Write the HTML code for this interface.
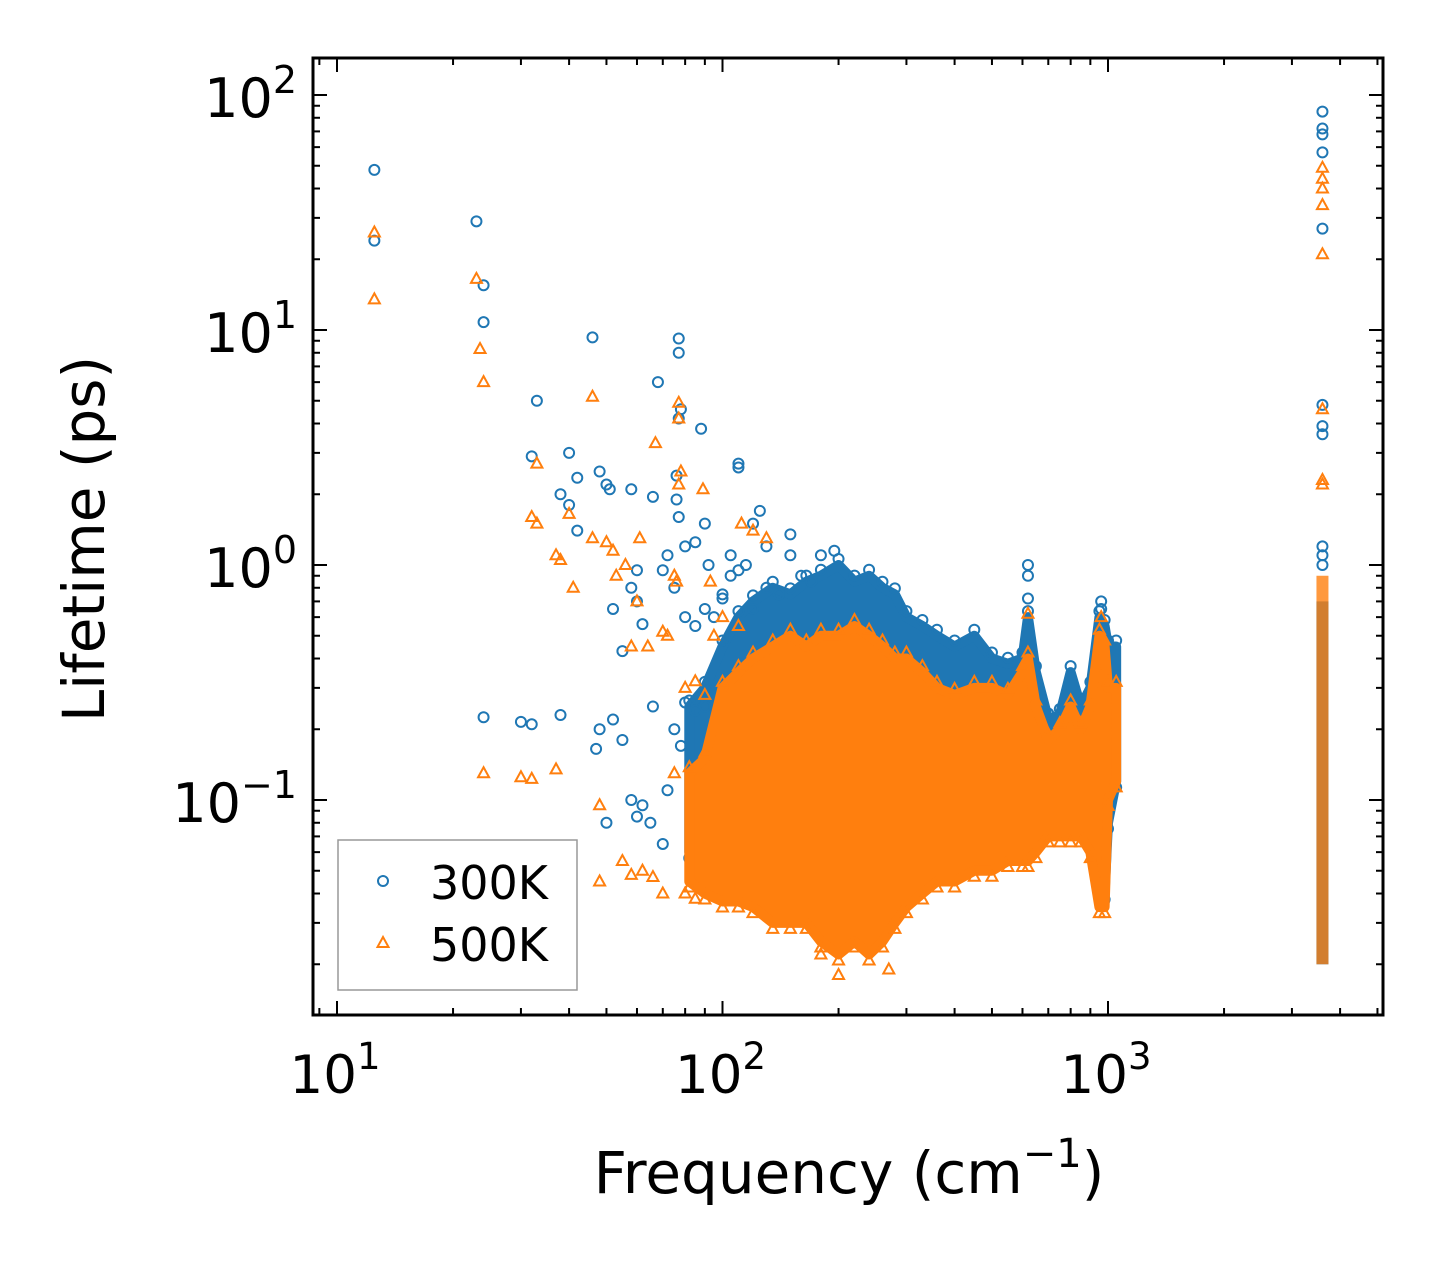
<!DOCTYPE html>
<html><head><meta charset="utf-8">
<style>
html,body{margin:0;padding:0;background:#fff;}
svg{display:block;font-family:"DejaVu Sans","Liberation Sans",sans-serif;}
</style></head>
<body>
<svg id="chart" width="1442" height="1265" viewBox="0 0 1442 1265" xmlns="http://www.w3.org/2000/svg" style="position:absolute;left:0;top:0">
<rect width="1442" height="1265" fill="#fff"/>
<g id="cloud"></g>
<g id="marks"></g>
<g id="axes"></g>
</svg>
<script>
// ---- data ----
const blueFreq = [12.5,12.5,23,24,24,24,30,32,33,32,38,40,40,38,42,42,46,48,50,51,52,55,58,58,60,60,62,66,66,68,70,72,75,77,77,77,78,76,76,77,80,85,88,90,92,100,105,110,110,115,120,125,130,150,150,180,195,620,620,620,960,960,50,48,47,52,55,58,60,62,65,70,72,3600,3600,3600,3600,3600,3600,3600,3600,3600,3600,3600,80,85,90,95,100,105,110,120,130,140,160,170,80,85,90,75,78];
const blueLife = [48,24,29,15.5,10.8,0.225,0.215,0.21,5,2.9,0.23,3,1.8,2,1.4,2.35,9.3,2.5,2.2,2.1,0.65,0.43,2.1,0.8,0.95,0.7,0.56,1.95,0.25,6,0.95,1.1,0.8,9.2,8,4.2,4.6,2.4,1.9,1.6,1.2,1.25,3.8,1.5,1.0,0.75,1.1,2.7,2.6,1.0,1.5,1.7,1.2,1.35,1.1,1.1,1.15,1.0,0.9,0.72,0.7,0.65,0.08,0.2,0.165,0.22,0.18,0.1,0.085,0.095,0.08,0.065,0.11,85,72,68,57,27,4.8,3.9,3.6,1.2,1.1,1.0,0.6,0.55,0.65,0.6,0.72,0.9,0.95,0.65,0.8,0.75,0.9,0.85,0.26,0.24,0.25,0.2,0.17];
const orangeFreq = [12.5,12.5,23,23.5,24,24,30,32,33,32,33,37,37,38,40,41,46,46,48,50,52,53,56,58,60,61,64,67,70,72,77,77,77,78,75,76,89,93,112,120,130,48,55,58,62,66,70,180,200,270,960,620,3600,3600,3600,3600,3600,3600,3600,3600,80,85,90,95,100,110,80,85,75];
const orangeLife = [26,13.5,16.5,8.3,6,0.13,0.125,0.123,2.7,1.6,1.5,1.1,0.135,1.05,1.65,0.8,5.2,1.3,0.095,1.25,1.15,0.9,1.0,0.45,0.7,1.3,0.45,3.3,0.52,0.5,4.9,4.2,2.2,2.5,0.9,0.85,2.1,0.85,1.5,1.4,1.3,0.045,0.055,0.048,0.05,0.047,0.04,0.022,0.018,0.019,0.6,0.62,49,44,40,34,21,4.6,2.3,2.2,0.3,0.32,0.28,0.5,0.6,0.55,0.04,0.038,0.13];
// dense band envelopes
const bandFreq = [82,90,100,110,120,135,150,165,180,200,220,240,260,280,300,330,360,400,450,500,550,600,620,650,700,750,800,850,900,950,980,1000,1050];
const blueHi = [0.25,0.3,0.45,0.6,0.7,0.8,0.75,0.85,0.9,1.0,0.85,0.9,0.8,0.75,0.6,0.55,0.5,0.45,0.5,0.4,0.38,0.4,0.6,0.35,0.22,0.23,0.35,0.25,0.3,0.6,0.55,0.45,0.45];
const blueLo = [0.06,0.05,0.05,0.05,0.05,0.05,0.06,0.06,0.05,0.05,0.05,0.05,0.05,0.06,0.06,0.07,0.07,0.08,0.08,0.08,0.08,0.08,0.08,0.09,0.1,0.1,0.1,0.1,0.09,0.05,0.04,0.08,0.12];
const orangeHi = [0.13,0.15,0.3,0.35,0.4,0.45,0.5,0.45,0.5,0.5,0.55,0.5,0.45,0.4,0.4,0.35,0.3,0.28,0.3,0.3,0.28,0.35,0.4,0.25,0.18,0.2,0.25,0.2,0.25,0.5,0.45,0.3,0.3];
const orangeLo = [0.045,0.04,0.037,0.037,0.035,0.03,0.03,0.03,0.025,0.022,0.025,0.022,0.025,0.03,0.035,0.04,0.045,0.045,0.05,0.05,0.055,0.055,0.055,0.06,0.07,0.07,0.07,0.07,0.06,0.035,0.035,0.1,0.12];
const colFreq = [3600];
const colBlue = [[0.02,0.7]];
const colOrange = [[0.02,0.9]];
const xTickExp = [1,2,3];
const yTickExp = [2,1,0,-1];

// ---- axes ----
const L=313,R=1383,T=58,B=1015;
const X = f => 337 + 385.5*(Math.log10(f)-1);
const Y = v => 565 - 235*Math.log10(v);
const NS="http://www.w3.org/2000/svg";
function mk(tag,attrs,parent){const e=document.createElementNS(NS,tag);for(const k in attrs)e.setAttribute(k,attrs[k]);parent.appendChild(e);return e;}
const cloud=document.getElementById('cloud'), marks=document.getElementById('marks'), axes=document.getElementById('axes');
const BLUE="#1f77b4", ORANGE="#ff7f0e";

function circ(x,y,parent){return mk('circle',{cx:x,cy:y,r:5,fill:'none',stroke:BLUE,'stroke-width':2},parent);}
function tri(x,y,parent){return mk('polygon',{points:`${x},${y-6} ${x-5.5},${y+4} ${x+5.5},${y+4}`,fill:'none',stroke:ORANGE,'stroke-width':2},parent);}

function band(hi,lo,color,name,marker){
  let pts=bandFreq.map((f,i)=>X(f)+","+Y(hi[i]));
  for(let i=bandFreq.length-1;i>=0;i--)pts.push(X(bandFreq[i])+","+Y(lo[i]));
  const p=mk('polygon',{points:pts.join(' '),fill:color,stroke:color,'stroke-width':10,'stroke-linejoin':'round'},cloud);
  
  
  bandFreq.forEach((f,i)=>{
    const a=marker(X(f),Y(hi[i])-6,cloud);
    
    
    const b=marker(X(f),Y(lo[i])+6,cloud);
    
    
  });
}
band(blueHi,blueLo,BLUE,'band-300k',circ);
band(orangeHi,orangeLo,ORANGE,'band-500k',tri);
colFreq.forEach((f,i)=>{
  const a=mk('rect',{x:X(f)-6,y:Y(colBlue[i][1]),width:12,height:Y(colBlue[i][0])-Y(colBlue[i][1]),fill:BLUE},cloud);
  
  
  const b=mk('rect',{x:X(f)-6,y:Y(colOrange[i][1]),width:12,height:Y(colOrange[i][0])-Y(colOrange[i][1]),fill:ORANGE,'fill-opacity':0.8},cloud);
  
  
});
blueFreq.forEach((f,i)=>{const c=circ(X(f),Y(blueLife[i]),marks);
  
  });
orangeFreq.forEach((f,i)=>{const t=tri(X(f),Y(orangeLife[i]),marks);
  
  });

// frame
const fr=mk('rect',{x:L,y:T,width:R-L,height:B-T,fill:'none',stroke:'#000','stroke-width':3},axes);


for(let e=0;e<=3;e++)for(let m=1;m<=9;m++){
  const v=m*Math.pow(10,e); if(v<9||v>5100)continue;
  const x=X(v), len=m===1?14:7;
  mk('line',{x1:x,y1:B,x2:x,y2:B-len,stroke:'#000','stroke-width':2},axes);
  mk('line',{x1:x,y1:T,x2:x,y2:T+len,stroke:'#000','stroke-width':2},axes);
}
for(let e=-2;e<=2;e++)for(let m=1;m<=9;m++){
  const v=m*Math.pow(10,e); const y=Y(v); if(y<T||y>B)continue;
  const len=m===1?14:7;
  mk('line',{x1:L,y1:y,x2:L+len,y2:y,stroke:'#000','stroke-width':2},axes);
  mk('line',{x1:R,y1:y,x2:R-len,y2:y,stroke:'#000','stroke-width':2},axes);
}
xTickExp.forEach(e=>{
  const t=mk('text',{x:X(Math.pow(10,e))-2,y:1093,'font-size':53,'text-anchor':'middle'},axes);
  
  
  t.innerHTML=`10<tspan font-size="37" dy="-24">${e}</tspan>`;
});
yTickExp.forEach(e=>{
  const t=mk('text',{x:297,y:Y(Math.pow(10,e))+22,'font-size':54,'text-anchor':'end'},axes);
  
  
  t.innerHTML=`10<tspan font-size="38" dy="-24">${e<0?'\u2212'+(-e):e}</tspan>`;
});
</script>
<svg style="position:absolute;left:0;top:0" width="1442" height="1265">
  <text x="0" y="0" transform="translate(104,539) rotate(-90)" font-family="DejaVu Sans, Liberation Sans, sans-serif" font-size="58" text-anchor="middle">Lifetime (ps)</text>
  <text x="849" y="1193" font-family="DejaVu Sans, Liberation Sans, sans-serif" font-size="58" text-anchor="middle">Frequency (cm<tspan font-size="40" dy="-26">−1</tspan><tspan dy="26">)</tspan></text>
  <g>
    <rect x="338" y="840" width="239" height="150" fill="#fff" fill-opacity="0.85" stroke="#999" stroke-width="1.5"/>
    <circle cx="383" cy="881" r="5" fill="none" stroke="#1f77b4" stroke-width="2"/>
    <text x="430" y="899" font-family="DejaVu Sans, Liberation Sans, sans-serif" font-size="46">300K</text>
    <polygon points="383,937 377.5,947 388.5,947" fill="none" stroke="#ff7f0e" stroke-width="2"/>
    <text x="430" y="961" font-family="DejaVu Sans, Liberation Sans, sans-serif" font-size="46">500K</text>
  </g>
</svg>
</body></html>
